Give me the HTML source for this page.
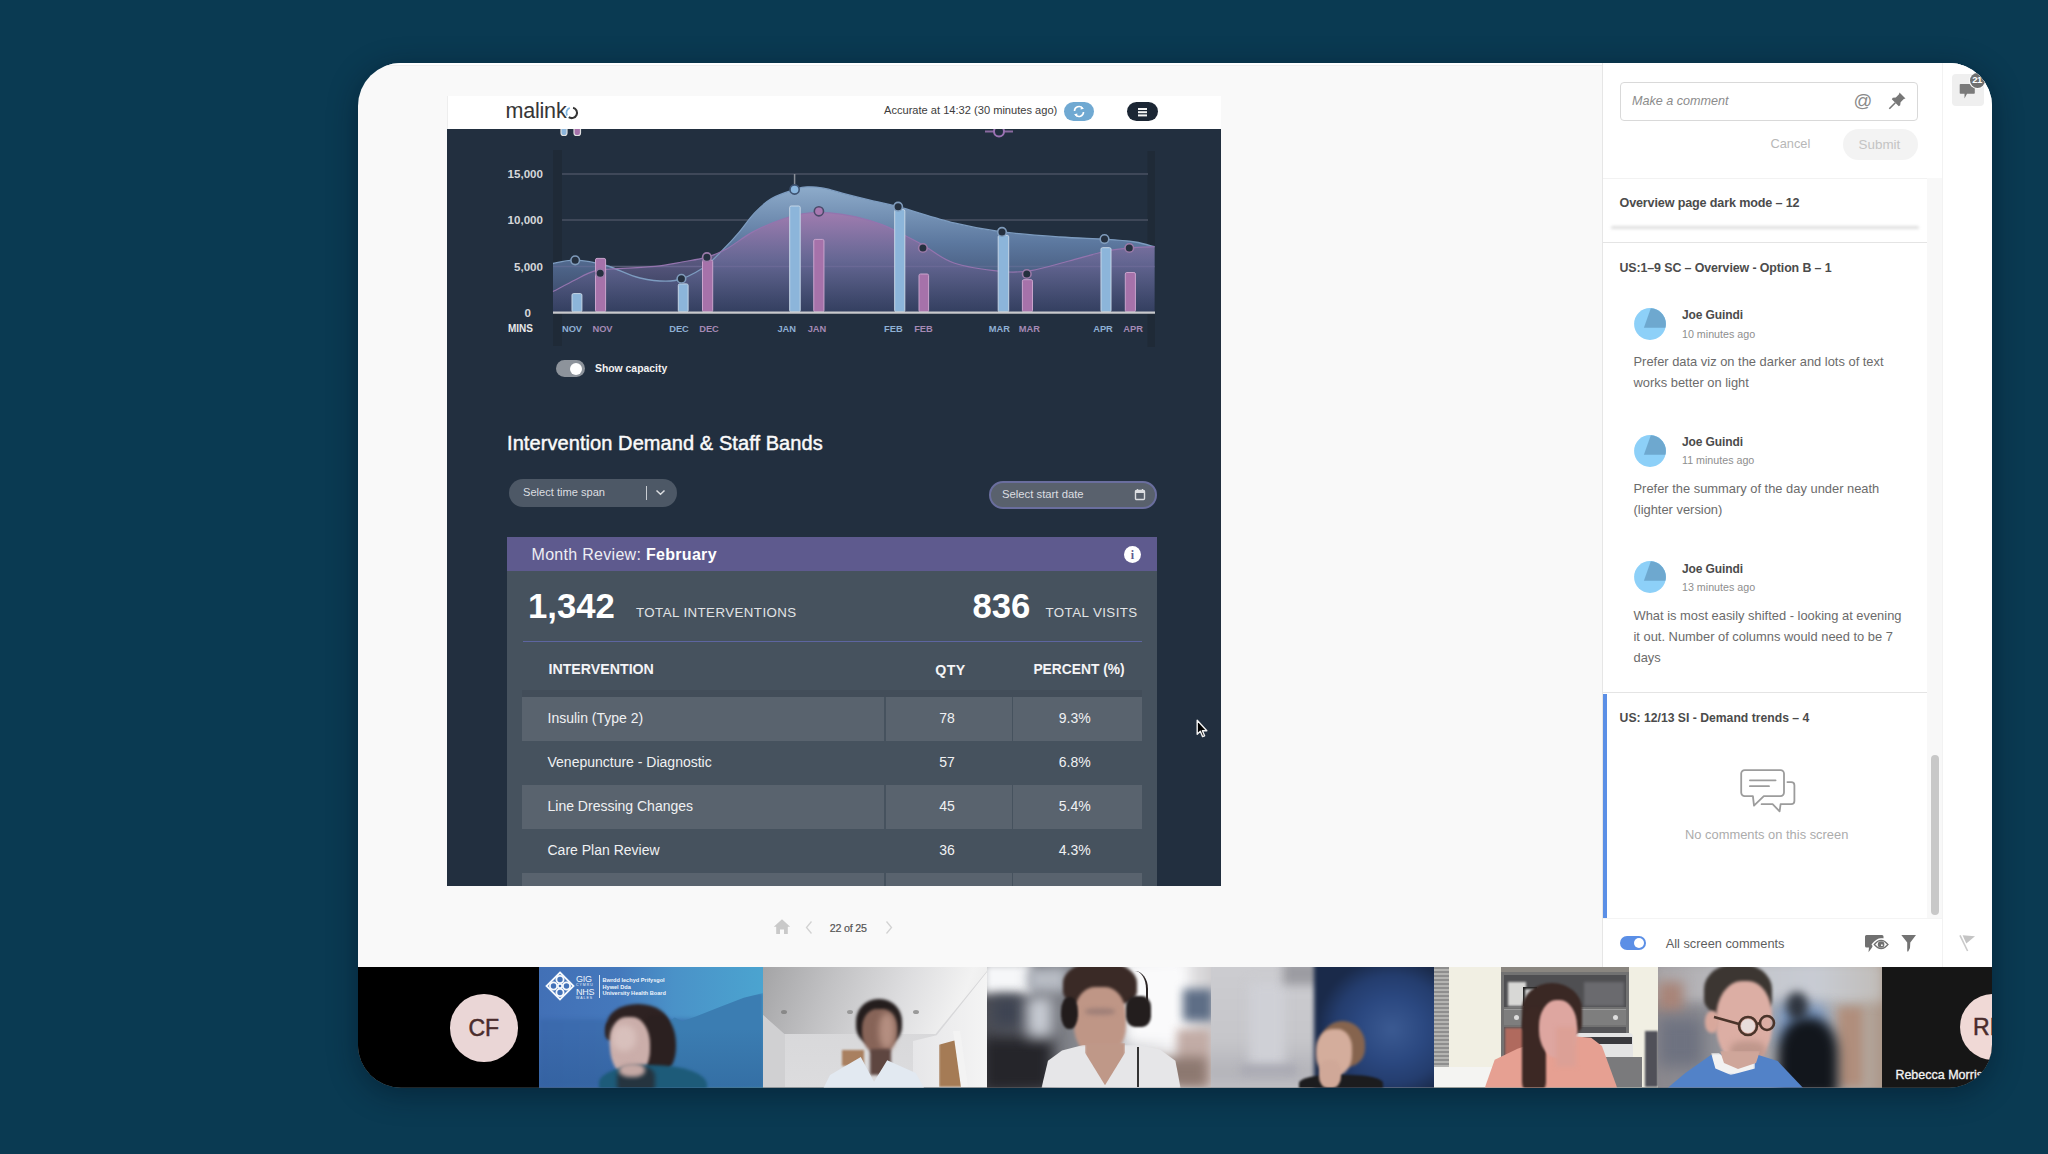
<!DOCTYPE html>
<html><head><meta charset="utf-8">
<style>
*{box-sizing:border-box;margin:0;padding:0}
html,body{width:2048px;height:1154px;overflow:hidden}
body{background:#0a3a52;position:relative;font-family:"Liberation Sans",sans-serif}
.a{position:absolute}
#shadow{position:absolute;left:358px;top:63px;width:1634px;height:1024.5px;border-radius:43px;box-shadow:0 6px 30px rgba(0,15,30,.45)}
#card{position:absolute;left:0;top:0;width:2048px;height:1154px;clip-path:inset(63px 56px 66.5px 358px round 43px);background:#f9f9f9}
.t{position:absolute;white-space:nowrap;line-height:1}
</style></head>
<body>
<div id="shadow"></div>
<div id="card">
  <div class="a" style="left:358px;top:63px;width:1634px;height:1.5px;background:#fff"></div>
  <div class="a" style="left:358px;top:64.5px;width:1634px;height:1px;background:#f0f0f0"></div>
  <!-- embedded dashboard screenshot -->
  <div class="a" style="left:447px;top:96px;width:774px;height:33px;background:#fff;border-left:1px solid #eee"></div>
  <div class="a" style="left:447px;top:129px;width:774px;height:757px;background:#222f3f"></div>
  <!--CHART-->
<svg class="a" style="left:447px;top:129px" width="774" height="757" viewBox="447 129 774 757">
<defs>
<linearGradient id="gb" gradientUnits="userSpaceOnUse" x1="0" y1="186" x2="0" y2="312">
<stop offset="0" stop-color="#8eaccb"/><stop offset="0.45" stop-color="#5c789f"/><stop offset="1" stop-color="#34405f"/></linearGradient>
<linearGradient id="gp" gradientUnits="userSpaceOnUse" x1="0" y1="210" x2="0" y2="312">
<stop offset="0" stop-color="#a57bb0" stop-opacity="0.95"/><stop offset="0.5" stop-color="#6b6594" stop-opacity="0.75"/><stop offset="1" stop-color="#333e60" stop-opacity="0.6"/></linearGradient>
</defs>
<rect x="553" y="150" width="9" height="196" fill="#1f2a37"/>
<rect x="1147.5" y="151" width="7.5" height="196" fill="#1f2a37"/>
<line x1="562" y1="174" x2="1148" y2="174" stroke="#4a5263" stroke-width="1.6"/>
<line x1="562" y1="220" x2="1148" y2="220" stroke="#4a5263" stroke-width="1.6"/>
<line x1="562" y1="266.5" x2="1148" y2="266.5" stroke="#4a5263" stroke-width="1.6"/>
<path d="M553.0,263.5 C556.7,262.9 566.2,259.9 575.0,260.2 C583.8,260.5 595.2,262.5 606.0,265.5 C616.8,268.5 628.5,275.5 640.0,278.0 C651.5,280.5 664.5,282.2 675.0,280.5 C685.5,278.8 694.9,273.2 703.0,268.0 C711.1,262.8 717.4,255.2 723.4,249.3 C729.4,243.4 733.8,238.5 739.0,232.4 C744.2,226.3 749.2,218.5 754.6,212.9 C760.0,207.3 764.8,202.5 771.5,198.6 C778.2,194.7 789.0,191.4 794.9,189.5 C800.8,187.6 801.8,187.1 806.6,186.9 C811.4,186.7 817.4,187.1 823.5,188.2 C829.6,189.3 835.4,191.4 843.0,193.4 C850.6,195.4 859.8,197.7 869.0,199.9 C878.2,202.1 883.8,202.9 898.0,206.7 C912.2,210.5 936.7,218.7 954.0,222.9 C971.3,227.1 984.3,229.6 1002.0,231.9 C1019.7,234.2 1042.9,235.8 1060.0,237.0 C1077.1,238.2 1092.0,238.3 1104.5,239.1 C1117.0,239.9 1126.7,240.7 1135.0,242.0 C1143.3,243.3 1151.2,245.9 1154.5,246.7 L1154.5,312 L553,312 Z" fill="url(#gb)"/>
<path d="M553.0,291.5 C556.7,289.6 568.2,283.4 575.0,280.0 C581.8,276.6 587.9,273.0 594.0,271.2 C600.1,269.4 601.3,269.8 611.5,269.0 C621.7,268.2 643.2,267.6 655.0,266.4 C666.8,265.2 673.3,263.6 682.0,262.0 C690.7,260.4 699.7,259.2 707.0,257.1 C714.3,255.0 718.5,253.4 726.0,249.3 C733.5,245.2 743.3,237.2 752.0,232.4 C760.7,227.6 769.3,223.8 778.0,220.7 C786.7,217.5 795.3,214.8 804.0,213.5 C812.7,212.2 821.3,212.3 830.0,212.9 C838.7,213.5 847.3,214.9 856.0,216.8 C864.7,218.8 874.7,221.9 882.0,224.6 C889.3,227.3 893.2,229.6 900.0,233.0 C906.8,236.4 914.0,240.0 923.0,245.0 C932.0,250.0 940.8,258.6 954.0,263.0 C967.2,267.4 989.2,270.2 1002.0,271.5 C1014.8,272.8 1019.8,272.4 1031.0,270.6 C1042.2,268.9 1056.8,264.2 1069.0,261.0 C1081.2,257.8 1094.5,253.7 1104.5,251.5 C1114.5,249.3 1120.7,248.8 1129.0,248.0 C1137.3,247.2 1150.2,246.9 1154.5,246.7 L1154.5,312 L553,312 Z" fill="url(#gp)"/>
<line x1="553" y1="266.5" x2="1155" y2="266.5" stroke="#8a7fb0" stroke-opacity="0.25" stroke-width="1.5"/>
<path d="M553.0,263.5 C556.7,262.9 566.2,259.9 575.0,260.2 C583.8,260.5 595.2,262.5 606.0,265.5 C616.8,268.5 628.5,275.5 640.0,278.0 C651.5,280.5 664.5,282.2 675.0,280.5 C685.5,278.8 694.9,273.2 703.0,268.0 C711.1,262.8 717.4,255.2 723.4,249.3 C729.4,243.4 733.8,238.5 739.0,232.4 C744.2,226.3 749.2,218.5 754.6,212.9 C760.0,207.3 764.8,202.5 771.5,198.6 C778.2,194.7 789.0,191.4 794.9,189.5 C800.8,187.6 801.8,187.1 806.6,186.9 C811.4,186.7 817.4,187.1 823.5,188.2 C829.6,189.3 835.4,191.4 843.0,193.4 C850.6,195.4 859.8,197.7 869.0,199.9 C878.2,202.1 883.8,202.9 898.0,206.7 C912.2,210.5 936.7,218.7 954.0,222.9 C971.3,227.1 984.3,229.6 1002.0,231.9 C1019.7,234.2 1042.9,235.8 1060.0,237.0 C1077.1,238.2 1092.0,238.3 1104.5,239.1 C1117.0,239.9 1126.7,240.7 1135.0,242.0 C1143.3,243.3 1151.2,245.9 1154.5,246.7" fill="none" stroke="#7d9cc0" stroke-width="1.3"/>
<path d="M553.0,291.5 C556.7,289.6 568.2,283.4 575.0,280.0 C581.8,276.6 587.9,273.0 594.0,271.2 C600.1,269.4 601.3,269.8 611.5,269.0 C621.7,268.2 643.2,267.6 655.0,266.4 C666.8,265.2 673.3,263.6 682.0,262.0 C690.7,260.4 699.7,259.2 707.0,257.1 C714.3,255.0 718.5,253.4 726.0,249.3 C733.5,245.2 743.3,237.2 752.0,232.4 C760.7,227.6 769.3,223.8 778.0,220.7 C786.7,217.5 795.3,214.8 804.0,213.5 C812.7,212.2 821.3,212.3 830.0,212.9 C838.7,213.5 847.3,214.9 856.0,216.8 C864.7,218.8 874.7,221.9 882.0,224.6 C889.3,227.3 893.2,229.6 900.0,233.0 C906.8,236.4 914.0,240.0 923.0,245.0 C932.0,250.0 940.8,258.6 954.0,263.0 C967.2,267.4 989.2,270.2 1002.0,271.5 C1014.8,272.8 1019.8,272.4 1031.0,270.6 C1042.2,268.9 1056.8,264.2 1069.0,261.0 C1081.2,257.8 1094.5,253.7 1104.5,251.5 C1114.5,249.3 1120.7,248.8 1129.0,248.0 C1137.3,247.2 1150.2,246.9 1154.5,246.7" fill="none" stroke="#9474ae" stroke-width="1.2"/>
<line x1="794.6" y1="174" x2="794.6" y2="186" stroke="#8a8f98" stroke-width="1.5"/>
<rect x="572" y="293.6" width="9.9" height="18.4" rx="1.5" fill="#8cb5da" stroke="#c5d6e6" stroke-width="1"/>
<rect x="678.3" y="283.9" width="9.8" height="28.1" rx="1.5" fill="#8cb5da" stroke="#c5d6e6" stroke-width="1"/>
<rect x="789.7" y="206" width="10.5" height="106.0" rx="1.5" fill="#8cb5da" stroke="#c5d6e6" stroke-width="1"/>
<rect x="894.7" y="209.6" width="10.1" height="102.4" rx="1.5" fill="#8cb5da" stroke="#c5d6e6" stroke-width="1"/>
<rect x="998.2" y="235.3" width="10.5" height="76.7" rx="1.5" fill="#8cb5da" stroke="#c5d6e6" stroke-width="1"/>
<rect x="1101" y="247.7" width="10.0" height="64.3" rx="1.5" fill="#8cb5da" stroke="#c5d6e6" stroke-width="1"/>
<rect x="595.5" y="258.4" width="10.1" height="53.6" rx="1.5" fill="#a672aa" stroke="#c9a4cc" stroke-width="1"/>
<rect x="702.5" y="260" width="10.2" height="52.0" rx="1.5" fill="#a672aa" stroke="#c9a4cc" stroke-width="1"/>
<rect x="813.75" y="239.4" width="10.2" height="72.6" rx="1.5" fill="#a672aa" stroke="#c9a4cc" stroke-width="1"/>
<rect x="919" y="274" width="9.6" height="38.0" rx="1.5" fill="#a672aa" stroke="#c9a4cc" stroke-width="1"/>
<rect x="1022.4" y="279.7" width="10.1" height="32.3" rx="1.5" fill="#a672aa" stroke="#c9a4cc" stroke-width="1"/>
<rect x="1125.3" y="272.5" width="10.1" height="39.5" rx="1.5" fill="#a672aa" stroke="#c9a4cc" stroke-width="1"/>
<line x1="553" y1="312.6" x2="1155" y2="312.6" stroke="#c8c9cc" stroke-width="2.4"/>
<circle cx="575.2" cy="260.3" r="4.3" fill="#25303f" stroke="#7f9bbb" stroke-width="1.6"/>
<circle cx="681.4" cy="278.75" r="4.3" fill="#25303f" stroke="#7f9bbb" stroke-width="1.6"/>
<circle cx="898.1" cy="206.7" r="4.3" fill="#25303f" stroke="#7f9bbb" stroke-width="1.6"/>
<circle cx="1002" cy="231.9" r="4.3" fill="#25303f" stroke="#7f9bbb" stroke-width="1.6"/>
<circle cx="1104.5" cy="239.1" r="4.3" fill="#25303f" stroke="#7f9bbb" stroke-width="1.6"/>
<circle cx="600.2" cy="273.3" r="4.3" fill="#25303f" stroke="#9a7aa8" stroke-width="1.6"/>
<circle cx="706.9" cy="257.2" r="4.3" fill="#25303f" stroke="#9a7aa8" stroke-width="1.6"/>
<circle cx="922.9" cy="248" r="4.3" fill="#25303f" stroke="#9a7aa8" stroke-width="1.6"/>
<circle cx="1026.8" cy="274" r="4.3" fill="#25303f" stroke="#9a7aa8" stroke-width="1.6"/>
<circle cx="1129.3" cy="248" r="4.3" fill="#25303f" stroke="#9a7aa8" stroke-width="1.6"/>
<circle cx="794.6" cy="189.5" r="4.6" fill="#8ab6de" stroke="#3e5270" stroke-width="1.6"/>
<circle cx="818.9" cy="211.3" r="4.6" fill="#a878b0" stroke="#4a4a6a" stroke-width="1.6"/>
<line x1="985" y1="131.5" x2="1013" y2="131.5" stroke="#8a6aa0" stroke-width="2"/>
<circle cx="999" cy="131.5" r="5" fill="#222f3f" stroke="#9a72b2" stroke-width="2"/>
<rect x="561" y="124" width="6" height="11.5" rx="2.5" fill="#8cb5da" stroke="#e0e0e0" stroke-width="1.2"/>
<rect x="574" y="124" width="6.5" height="11.5" rx="2.5" fill="#a672aa" stroke="#e0e0e0" stroke-width="1.2"/>
</svg>
<!--/CHART-->
  <!-- header content -->
  <div class="t" style="left:505.5px;top:101.2px;font-size:21.5px;color:#363636;letter-spacing:-0.2px;-webkit-text-stroke:0.05px #363636">malink</div>
  <svg class="a" style="left:564px;top:105px" width="16" height="16" viewBox="0 0 16 16"><path d="M9.07,2.68 A5.3,5.3 0 1 1 4.74,12.19" fill="none" stroke="#363636" stroke-width="2"/><path d="M3.11,10.45 A5.3,5.3 0 0 1 5.8,2.85" fill="none" stroke="#7fb6e2" stroke-width="1.8"/></svg>
  <div class="t" style="left:884px;top:105px;font-size:11.1px;color:#3c3c3c">Accurate at 14:32 (30 minutes ago)</div>
  <div class="a" style="left:1064px;top:102px;width:30px;height:19px;border-radius:10px;background:#70a9d2"></div>
  <svg class="a" style="left:1071px;top:104px" width="16" height="15" viewBox="0 0 16 15"><path d="M3.5,7 A4.5,4.5 0 0 1 11.5,4.2 M12.5,8 A4.5,4.5 0 0 1 4.5,10.8" fill="none" stroke="#fff" stroke-width="1.6"/><path d="M10,2.3 L13,4.8 L9.6,5.6Z M6,12.7 L3,10.2 L6.4,9.4Z" fill="#fff"/></svg>
  <div class="a" style="left:1127px;top:102px;width:31px;height:19px;border-radius:10px;background:#1b2634"></div>
  <div class="a" style="left:1138px;top:108px;width:8.5px;height:1.7px;background:#f4f4f4;box-shadow:0 3.2px 0 #f4f4f4,0 6.4px 0 #f4f4f4"></div>
  <!-- chart labels -->
  <div class="t" style="left:480px;top:168px;width:63px;text-align:right;font-size:11.6px;font-weight:bold;color:#d5d7da">15,000</div>
  <div class="t" style="left:480px;top:214px;width:63px;text-align:right;font-size:11.6px;font-weight:bold;color:#d5d7da">10,000</div>
  <div class="t" style="left:480px;top:260.5px;width:63px;text-align:right;font-size:11.6px;font-weight:bold;color:#d5d7da">5,000</div>
  <div class="t" style="left:480px;top:306.5px;width:51px;text-align:right;font-size:11.6px;font-weight:bold;color:#d5d7da">0</div>
  <div class="t" style="left:508px;top:324px;font-size:10px;font-weight:bold;color:#e8e8e8">MINS</div>
  <div style="position:absolute;left:0;top:325px;font-size:9.3px;font-weight:bold;line-height:1">
    <div class="t" style="left:552px;width:40px;text-align:center;color:#8fb0d4">NOV</div>
    <div class="t" style="left:582.5px;width:40px;text-align:center;color:#a58ab5">NOV</div>
    <div class="t" style="left:659px;width:40px;text-align:center;color:#8fb0d4">DEC</div>
    <div class="t" style="left:689px;width:40px;text-align:center;color:#a58ab5">DEC</div>
    <div class="t" style="left:766.7px;width:40px;text-align:center;color:#8fb0d4">JAN</div>
    <div class="t" style="left:797px;width:40px;text-align:center;color:#a58ab5">JAN</div>
    <div class="t" style="left:873.4px;width:40px;text-align:center;color:#8fb0d4">FEB</div>
    <div class="t" style="left:903.5px;width:40px;text-align:center;color:#a58ab5">FEB</div>
    <div class="t" style="left:979.3px;width:40px;text-align:center;color:#8fb0d4">MAR</div>
    <div class="t" style="left:1009.3px;width:40px;text-align:center;color:#a58ab5">MAR</div>
    <div class="t" style="left:1083px;width:40px;text-align:center;color:#8fb0d4">APR</div>
    <div class="t" style="left:1113.2px;width:40px;text-align:center;color:#a58ab5">APR</div>
  </div>
  <!-- show capacity -->
  <div class="a" style="left:556px;top:360px;width:29px;height:17px;border-radius:9px;background:#8d939b"></div>
  <div class="a" style="left:570px;top:362.5px;width:12px;height:12px;border-radius:50%;background:#fff"></div>
  <div class="t" style="left:595px;top:363.5px;font-size:10.4px;font-weight:bold;color:#f2f2f2">Show capacity</div>
  <!-- title -->
  <div class="t" style="left:507px;top:432.5px;font-size:20px;letter-spacing:0.08px;color:#fafafa;-webkit-text-stroke:0.45px #fafafa">Intervention Demand &amp; Staff Bands</div>
  <!-- dropdown -->
  <div class="a" style="left:508.5px;top:478.5px;width:168.5px;height:28.5px;border-radius:14px;background:#4d5866"></div>
  <div class="t" style="left:523px;top:487px;font-size:11.1px;color:#dcdee1">Select time span</div>
  <div class="a" style="left:645.5px;top:486px;width:1.5px;height:13.5px;background:#c8ccd2"></div>
  <svg class="a" style="left:655px;top:489px" width="11" height="7" viewBox="0 0 11 7"><path d="M1.5,1.5 L5.5,5.2 L9.5,1.5" fill="none" stroke="#dcdee1" stroke-width="1.5"/></svg>
  <div class="a" style="left:988.5px;top:480.5px;width:168.5px;height:28.5px;border-radius:14px;background:#59616d;border:2px solid #6a6e9e"></div>
  <div class="t" style="left:1002px;top:489px;font-size:11.3px;color:#dcdee1">Select start date</div>
  <svg class="a" style="left:1134px;top:488px" width="12" height="13" viewBox="0 0 12 13"><rect x="1.5" y="2.5" width="9" height="9" rx="1" fill="none" stroke="#dcdee1" stroke-width="1.4"/><rect x="1.5" y="2.5" width="9" height="2.5" fill="#dcdee1"/><path d="M3.5,1 V3 M8.5,1 V3" stroke="#dcdee1" stroke-width="1.3"/></svg>
  <!-- month review panel -->
  <div class="a" style="left:507px;top:537px;width:650px;height:34px;background:#5e5a8e"></div>
  <div class="t" style="left:531.5px;top:547px;font-size:16px;letter-spacing:0.3px;color:#eeeef4">Month Review: <b style="color:#fff">February</b></div>
  <div class="a" style="left:1124px;top:546px;width:17px;height:17px;border-radius:50%;background:#fff"></div>
  <div class="t" style="left:1124px;top:548.5px;width:17px;text-align:center;font-size:12px;font-weight:bold;color:#5e5a8e;font-family:'Liberation Serif',serif">i</div>
  <div class="a" style="left:507px;top:571px;width:650px;height:315px;background:#46525e"></div>
  <div class="t" style="left:528px;top:589px;font-size:34.7px;font-weight:bold;color:#fff">1,342</div>
  <div class="t" style="left:636px;top:606px;font-size:13.3px;letter-spacing:0.43px;color:#e2e4e7">TOTAL INTERVENTIONS</div>
  <div class="t" style="left:972.5px;top:589px;font-size:34.7px;font-weight:bold;color:#fff">836</div>
  <div class="t" style="left:1045.5px;top:606px;font-size:13.3px;letter-spacing:0.43px;color:#e2e4e7">TOTAL VISITS</div>
  <div class="a" style="left:523px;top:640.5px;width:619px;height:1.5px;background:#5d65a0"></div>
  <!-- table -->
  <div class="t" style="left:548.5px;top:662px;font-size:14.2px;font-weight:bold;color:#f4f4f6">INTERVENTION</div>
  <div class="t" style="left:930px;top:662.5px;width:41px;text-align:center;font-size:14.2px;font-weight:bold;letter-spacing:0.4px;color:#f4f4f6">QTY</div>
  <div class="t" style="left:1030px;top:662.5px;width:98px;text-align:center;font-size:13.8px;font-weight:bold;color:#f4f4f6">PERCENT (%)</div>
  <div class="a" style="left:522px;top:690px;width:620px;height:7px;background:#424d59"></div>
  <div class="a" style="left:522px;top:697px;width:362px;height:44px;background:#59636e"></div>
  <div class="a" style="left:885.5px;top:697px;width:126px;height:44px;background:#59636e"></div>
  <div class="a" style="left:1013px;top:697px;width:129px;height:44px;background:#59636e"></div>
  <div class="a" style="left:522px;top:785px;width:362px;height:44px;background:#59636e"></div>
  <div class="a" style="left:885.5px;top:785px;width:126px;height:44px;background:#59636e"></div>
  <div class="a" style="left:1013px;top:785px;width:129px;height:44px;background:#59636e"></div>
  <div class="a" style="left:522px;top:873px;width:362px;height:13px;background:#59636e"></div>
  <div class="a" style="left:885.5px;top:873px;width:126px;height:13px;background:#59636e"></div>
  <div class="a" style="left:1013px;top:873px;width:129px;height:13px;background:#59636e"></div>
  <div style="position:absolute;left:0;top:0;font-size:14px;color:#f0f1f3;line-height:1">
    <div class="t" style="left:547.5px;top:711px">Insulin (Type 2)</div>
    <div class="t" style="left:917px;top:711px;width:60px;text-align:center">78</div>
    <div class="t" style="left:1044.8px;top:711px;width:60px;text-align:center">9.3%</div>
    <div class="t" style="left:547.5px;top:755px">Venepuncture - Diagnostic</div>
    <div class="t" style="left:917px;top:755px;width:60px;text-align:center">57</div>
    <div class="t" style="left:1044.8px;top:755px;width:60px;text-align:center">6.8%</div>
    <div class="t" style="left:547.5px;top:799px">Line Dressing Changes</div>
    <div class="t" style="left:917px;top:799px;width:60px;text-align:center">45</div>
    <div class="t" style="left:1044.8px;top:799px;width:60px;text-align:center">5.4%</div>
    <div class="t" style="left:547.5px;top:843px">Care Plan Review</div>
    <div class="t" style="left:917px;top:843px;width:60px;text-align:center">36</div>
    <div class="t" style="left:1044.8px;top:843px;width:60px;text-align:center">4.3%</div>
  </div>
  <!-- cursor -->
  <svg class="a" style="left:1194px;top:718px" width="16" height="22" viewBox="0 0 16 22"><path d="M3.2,2.3 L3.2,16.2 L6.3,13.3 L8.6,18.6 L10.6,17.8 L8.4,12.7 L12.8,12.7 Z" fill="#000" stroke="#f2f2f2" stroke-width="1.4" stroke-linejoin="round"/></svg>
  <!-- pagination -->
  <svg class="a" style="left:773px;top:918px" width="18" height="17" viewBox="0 0 18 17"><path d="M9,1.2 L17.2,8.8 L14.8,8.8 L14.8,16 L11,16 L11,11.5 L7,11.5 L7,16 L3.2,16 L3.2,8.8 L0.8,8.8 Z" fill="#c9c9c9"/></svg>
  <svg class="a" style="left:804px;top:920px" width="10" height="15" viewBox="0 0 10 15"><path d="M7.5,1.5 L2.5,7.5 L7.5,13.5" fill="none" stroke="#d2d2d2" stroke-width="1.3"/></svg>
  <div class="t" style="left:829.8px;top:922.5px;font-size:10.7px;letter-spacing:-0.2px;color:#555;-webkit-text-stroke:0.2px #555">22 of 25</div>
  <svg class="a" style="left:884px;top:920px" width="10" height="15" viewBox="0 0 10 15"><path d="M2.5,1.5 L7.5,7.5 L2.5,13.5" fill="none" stroke="#d2d2d2" stroke-width="1.3"/></svg>

  <!-- comments panel -->
  <div class="a" style="left:1602px;top:63px;width:341px;height:904px;background:#fff;border-left:1px solid #e6e6e6"></div>
  <div class="a" style="left:1942px;top:63px;width:50px;height:904px;background:#fff;border-left:1px solid #f2f2f2"></div>
  <div class="a" style="left:1926.5px;top:178px;width:15.5px;height:740px;background:#f8f8f8"></div>
  <div class="a" style="left:1603px;top:177.5px;width:324px;height:1px;background:#f2f2f2"></div>
  <!-- input -->
  <div class="a" style="left:1619.5px;top:81.5px;width:298px;height:39px;border:1px solid #d9d9d9;border-radius:4px;background:#fff"></div>
  <div class="t" style="left:1632px;top:94.5px;font-size:12.6px;font-style:italic;color:#8c8c8c">Make a comment</div>
  <div class="t" style="left:1853.5px;top:92px;font-size:18.5px;color:#8a8a8a">@</div>
  <svg class="a" style="left:1887px;top:90px" width="21" height="21" viewBox="0 0 21 21"><path d="M12.5,2.5 L18.5,8.5 L16.8,9 L13.6,12.2 L13.2,15.2 L11.8,16.2 L4.8,9.2 L5.8,7.8 L8.8,7.4 L12,4.2 Z" fill="#777"/><path d="M8.3,12.7 L2.3,18.7" stroke="#777" stroke-width="1.6"/></svg>
  <div class="t" style="left:1770.5px;top:138px;font-size:12.8px;color:#b7b7b7">Cancel</div>
  <div class="a" style="left:1842.5px;top:129px;width:75px;height:31px;border-radius:16px;background:#f3f3f3"></div>
  <div class="t" style="left:1858.6px;top:138px;font-size:13.4px;color:#c4c4c4">Submit</div>
  <!-- group 1 -->
  <div class="t" style="left:1619.5px;top:196.5px;font-size:12.6px;font-weight:bold;letter-spacing:-0.15px;color:#4b4b4b">Overview page dark mode – 12</div>
  <div class="a" style="left:1611px;top:225.5px;width:308px;height:3px;border-radius:2px;background:#dedede;filter:blur(1.8px)"></div>
  <div class="a" style="left:1603px;top:242px;width:324px;height:1px;background:#e4e4e4"></div>
  <!-- group 2 -->
  <div class="t" style="left:1619.5px;top:262px;font-size:12.4px;font-weight:bold;letter-spacing:-0.1px;color:#4b4b4b">US:1–9 SC – Overview - Option B – 1</div>
  <div id="cm" style="position:absolute;left:0;top:0;line-height:1">
    <svg class="a" style="left:1633.5px;top:307.8px" width="32" height="32" viewBox="0 0 32 32"><circle cx="16" cy="16" r="15.9" fill="#8dd0f8"/><path d="M16.8,0.15 A15.9,15.9 0 0 1 31.4,19.8 L9.9,19.8 Z" fill="#6ea8cf"/></svg>
    <div class="t" style="left:1682px;top:309px;font-size:12px;font-weight:bold;letter-spacing:-0.1px;color:#4b4b4b">Joe Guindi</div>
    <div class="t" style="left:1682px;top:328.5px;font-size:10.7px;color:#8e8e8e">10 minutes ago</div>
    <div class="t" style="left:1633.5px;top:356px;font-size:12.9px;color:#6b6b6b">Prefer data viz on the darker and lots of text</div>
    <div class="t" style="left:1633.5px;top:377px;font-size:12.9px;color:#6b6b6b">works better on light</div>

    <svg class="a" style="left:1633.5px;top:434.5px" width="32" height="32" viewBox="0 0 32 32"><circle cx="16" cy="16" r="15.9" fill="#8dd0f8"/><path d="M16.8,0.15 A15.9,15.9 0 0 1 31.4,19.8 L9.9,19.8 Z" fill="#6ea8cf"/></svg>
    <div class="t" style="left:1682px;top:436px;font-size:12px;font-weight:bold;letter-spacing:-0.1px;color:#4b4b4b">Joe Guindi</div>
    <div class="t" style="left:1682px;top:455px;font-size:10.7px;color:#8e8e8e">11 minutes ago</div>
    <div class="t" style="left:1633.5px;top:483px;font-size:12.9px;color:#6b6b6b">Prefer the summary of the day under neath</div>
    <div class="t" style="left:1633.5px;top:504px;font-size:12.9px;color:#6b6b6b">(lighter version)</div>

    <svg class="a" style="left:1633.5px;top:561px" width="32" height="32" viewBox="0 0 32 32"><circle cx="16" cy="16" r="15.9" fill="#8dd0f8"/><path d="M16.8,0.15 A15.9,15.9 0 0 1 31.4,19.8 L9.9,19.8 Z" fill="#6ea8cf"/></svg>
    <div class="t" style="left:1682px;top:562.5px;font-size:12px;font-weight:bold;letter-spacing:-0.1px;color:#4b4b4b">Joe Guindi</div>
    <div class="t" style="left:1682px;top:582px;font-size:10.7px;color:#8e8e8e">13 minutes ago</div>
    <div class="t" style="left:1633.5px;top:609.5px;font-size:12.9px;color:#6b6b6b">What is most easily shifted - looking at evening</div>
    <div class="t" style="left:1633.5px;top:630.5px;font-size:12.9px;color:#6b6b6b">it out. Number of columns would need to be 7</div>
    <div class="t" style="left:1633.5px;top:651.5px;font-size:12.9px;color:#6b6b6b">days</div>
  </div>
  <div class="a" style="left:1603px;top:692px;width:324px;height:1px;background:#e4e4e4"></div>
  <!-- group 3 -->
  <div class="a" style="left:1603px;top:693.5px;width:4px;height:224px;background:#5b8fe6"></div>
  <div class="t" style="left:1619.6px;top:712px;font-size:12.2px;font-weight:bold;letter-spacing:0px;color:#4b4b4b">US: 12/13 SI - Demand trends – 4</div>
  <svg class="a" style="left:1739px;top:768px" width="58" height="46" viewBox="0 0 58 46"><g fill="none" stroke="#9c9c9c" stroke-width="1.8" stroke-linejoin="round" stroke-linecap="round"><path d="M5.7,2.1 H41.5 A3.5,3.5 0 0 1 45,5.6 V24.6 A3.5,3.5 0 0 1 41.5,28.1 H24.8 L15,37.7 L13.9,28.1 H5.7 A3.5,3.5 0 0 1 2.2,24.6 V5.6 A3.5,3.5 0 0 1 5.7,2.1 Z"/><path d="M48.4,14.1 H52.2 A3.2,3.2 0 0 1 55.4,17.3 V33 A3.2,3.2 0 0 1 52.2,36.2 H41.6 L40.6,43.4 L33.6,36.2 H22.6"/><path d="M10.9,12.3 H36.6 M10.9,18.2 H30"/></g></svg>
  <div class="t" style="left:1685px;top:829px;font-size:12.9px;color:#acacac">No comments on this screen</div>
  <div class="a" style="left:1930.5px;top:755px;width:8.5px;height:159.5px;border-radius:4.5px;background:#c8c8c8"></div>
  <!-- bottom bar -->
  <div class="a" style="left:1603px;top:917.5px;width:339px;height:1px;background:#f4f4f4"></div>
  <div class="a" style="left:1619.5px;top:936.3px;width:26px;height:14px;border-radius:7px;background:#5b8fe6"></div>
  <div class="a" style="left:1633.5px;top:938.3px;width:10px;height:10px;border-radius:50%;background:#fff"></div>
  <div class="t" style="left:1665.7px;top:937.5px;font-size:12.8px;color:#5e5e5e">All screen comments</div>
  <svg class="a" style="left:1864px;top:933px" width="27" height="21" viewBox="0 0 27 21"><path d="M2.5,2 H18 A1.5,1.5 0 0 1 19.5,3.5 V5.6 A10,8 0 0 0 9,12 L8,14.6 L4.5,19.3 L5,14.6 H2.5 A1.5,1.5 0 0 1 1,13.1 V3.5 A1.5,1.5 0 0 1 2.5,2 Z" fill="#707070"/><path d="M8.4,11.5 Q17.1,0.5 25.8,11.5 Q17.1,22.5 8.4,11.5 Z" fill="#707070" stroke="#fff" stroke-width="1.4"/><path d="M11.2,11.5 Q17.1,4.6 23,11.5 Q17.1,18.4 11.2,11.5 Z" fill="#fff"/><circle cx="17.1" cy="11.5" r="3.3" fill="#707070"/><circle cx="17.9" cy="12.2" r="0.9" fill="#fff"/></svg>
  <svg class="a" style="left:1900px;top:934px" width="17" height="19" viewBox="0 0 17 19"><path d="M1.3,1 H16 L10.3,8.5 L10,14 L8.2,17.5 L7.2,17.5 L7.2,8.5 Z" fill="#737373"/></svg>
  <svg class="a" style="left:1958px;top:933px" width="19" height="20" viewBox="0 0 19 20"><path d="M2,2.3 L9.6,18" stroke="#cacaca" stroke-width="1.6"/><path d="M4.6,2.3 L17,3.3 L8.3,10.5 Z" fill="#c4c4c4"/></svg>
  <!-- right column comment button -->
  <div class="a" style="left:1952px;top:74px;width:32px;height:31.5px;border-radius:4px;background:#efefef"></div>
  <svg class="a" style="left:1959px;top:83px" width="17" height="17" viewBox="0 0 17 17"><path d="M1.5,1 H15 A0.8,0.8 0 0 1 15.8,1.8 V10 A0.8,0.8 0 0 1 15,10.8 H8 L5.5,15.5 L5.5,10.8 H1.5 A0.8,0.8 0 0 1 0.7,10 V1.8 A0.8,0.8 0 0 1 1.5,1 Z" fill="#7a7a7a"/></svg>
  <div class="a" style="left:1969.5px;top:72.5px;width:15px;height:15px;border-radius:50%;background:#707070;box-shadow:0 0 0 1px #fafafa"></div>
  <div class="t" style="left:1969.5px;top:75px;width:15px;text-align:center;font-size:9.5px;font-weight:bold;letter-spacing:-0.5px;color:#fff">21</div>

  <!-- video strip -->
  <div class="a" style="left:358px;top:967px;width:1634px;height:121px;background:#000"></div>
  <!--VIDEO-->
<style>
.tile{position:absolute;top:967px;height:121px;overflow:hidden}
.tile div{position:absolute}
.bl{filter:blur(3px)}
</style>
<!-- tile1 CF -->
<div class="tile" style="left:358px;width:181px;background:#000">
  <div style="left:92px;top:27px;width:67.5px;height:67.5px;border-radius:50%;background:#ead6d6"></div>
  <div style="left:92px;top:50px;width:67.5px;text-align:center;font-size:23px;line-height:1;color:#4a2c2c;white-space:nowrap;-webkit-text-stroke:0.5px #4a2c2c">CF</div>
</div>
<!-- tile2 NHS -->
<div class="tile" style="left:539px;width:224px;background:linear-gradient(90deg,#4270b6 0%,#4478bc 35%,#4a92c8 60%,#4ba4d0 100%)">
  <div style="left:0;top:52px;width:224px;height:68px;background:linear-gradient(90deg,#3b69ad,#3d70b0 50%,#3b7cb0);filter:blur(2px)"></div>
  <div style="left:128px;top:26px;width:96px;height:94px;background:#3b7db2;clip-path:polygon(0 32%,8% 26%,16% 30%,30% 25%,55% 15%,80% 5%,100% 0,100% 100%,0 100%);filter:blur(1.5px)"></div>
  <div style="left:0;top:62px;width:224px;height:58px;background:linear-gradient(180deg,rgba(40,80,140,0),rgba(40,85,140,.35))"></div>
  <div style="left:68px;top:37px;width:62px;height:40px;border-radius:50% 50% 30% 30%;background:#2e2222;filter:blur(1.8px)"></div>
  <div style="left:104px;top:48px;width:33px;height:58px;border-radius:30% 50% 45% 40%;background:#2b2020;filter:blur(1.8px)"></div>
  <div style="left:66px;top:55px;width:10px;height:18px;border-radius:40%;background:#2e2424;filter:blur(1.5px)"></div>
  <div style="left:71px;top:50px;width:40px;height:60px;border-radius:40% 45% 45% 50%;background:#cbaeaa;filter:blur(1.8px)"></div>
  <div style="left:73px;top:58px;width:24px;height:26px;border-radius:45%;background:#d8c0bc;filter:blur(3px)"></div>
  <div style="left:60px;top:98px;width:108px;height:40px;border-radius:45% 50% 0 0;background:#1d5b79;filter:blur(1.5px)"></div>
  <div style="left:78px;top:99px;width:38px;height:30px;border-radius:35%;background:#25343f;filter:blur(2px)"></div>
  <div style="left:80px;top:96px;width:26px;height:14px;border-radius:45%;background:#c4a8a4;filter:blur(2px)"></div>
  <svg style="position:absolute;left:6px;top:4px" width="30" height="30" viewBox="0 0 30 30"><g fill="none" stroke="#f4f8fc" stroke-width="1.8"><path d="M15,1.5 L28.5,15 L15,28.5 L1.5,15 Z"/><circle cx="15" cy="8.5" r="3.6"/><circle cx="15" cy="21.5" r="3.6"/><circle cx="8.5" cy="15" r="3.6"/><circle cx="21.5" cy="15" r="3.6"/><circle cx="15" cy="15" r="2.2"/></g></svg>
  <div style="left:37px;top:7.5px;font-size:9px;line-height:8px;color:#eef4fb;white-space:nowrap;letter-spacing:-0.3px">GIG</div>
  <div style="left:37px;top:16px;font-size:3.5px;line-height:4px;color:#eef4fb;white-space:nowrap;letter-spacing:1px">CYMRU</div>
  <div style="left:37px;top:20.5px;font-size:9px;line-height:8px;color:#eef4fb;white-space:nowrap;letter-spacing:-0.3px">NHS</div>
  <div style="left:37px;top:29px;font-size:3.5px;line-height:4px;color:#eef4fb;white-space:nowrap;letter-spacing:1px">WALES</div>
  <div style="left:60px;top:8px;width:1px;height:23px;background:#dde8f4"></div>
  <div style="left:63.5px;top:10px;font-size:5.6px;line-height:6.5px;color:#eef4fb;white-space:nowrap;font-weight:bold">Bwrdd Iechyd Prifysgol<br>Hywel Dda<br>University Health Board</div>
</div>
<!-- tile3 man white room -->
<div class="tile" style="left:763px;width:224px;background:linear-gradient(180deg,#d4d4d6 0%,#dcdcde 100%)">
  <div style="left:0;top:0;width:224px;height:67px;background:linear-gradient(110deg,#a4a4a6 0%,#c2c2c4 30%,#dddddf 60%,#f2f2f2 85%,#e8e8e8 100%);clip-path:polygon(0 0,100% 0,100% 6%,77% 100%,9% 100%,0 72%)"></div>
  <div style="left:0;top:48px;width:22px;height:72px;background:#d0d0d2;clip-path:polygon(0 0,100% 27%,100% 100%,0 100%)"></div>
  <div style="left:150px;top:5px;width:74px;height:115px;background:linear-gradient(90deg,#e6e6e8,#f4f4f4);clip-path:polygon(100% 0,100% 100%,0 100%,0 60%,32% 55%)"></div>
  <div style="left:176px;top:72px;width:26px;height:48px;background:#a57b55;clip-path:polygon(0 12%,80% 0,100% 100%,0 100%);filter:blur(0.8px)"></div>
  <div style="left:194px;top:64px;width:7px;height:56px;background:#f3f3f3;transform:skewX(8deg)"></div>
  <div style="left:79px;top:83px;width:22px;height:16px;background:#a98060;filter:blur(0.8px)"></div>
  <div style="left:18px;top:43px;width:6px;height:4px;border-radius:50%;background:#888"></div>
  <div style="left:84px;top:43px;width:6px;height:4px;border-radius:50%;background:#999"></div>
  <div style="left:150px;top:43px;width:6px;height:4px;border-radius:50%;background:#999"></div>
  <div style="left:93px;top:32px;width:46px;height:46px;border-radius:48% 48% 40% 40%;background:#241d1d;filter:blur(1.5px)"></div>
  <div style="left:99px;top:42px;width:35px;height:45px;border-radius:42% 42% 48% 48%;background:#876458;filter:blur(1.5px)"></div>
  <div style="left:116px;top:46px;width:16px;height:36px;border-radius:45%;background:#b48e80;filter:blur(3px)"></div>
  <div style="left:107px;top:82px;width:21px;height:26px;background:#5e4640;filter:blur(1.5px)"></div>
  <div style="left:56px;top:90px;width:110px;height:40px;background:#e2e9f1;clip-path:polygon(0 100%,10% 45%,38% 0,50% 62%,62% 8%,88% 40%,100% 100%);filter:blur(0.7px)"></div>
</div>
<!-- tile4 man headphones -->
<div class="tile" style="left:987px;width:224px;background:#9a9ca2">
  <div style="left:-10px;top:-10px;width:244px;height:140px;background:linear-gradient(90deg,#4a4b52 0%,#5a5c64 20%,#8e9096 45%,#d8d9dc 65%,#f2f2f4 80%,#c8c6c8 100%);filter:blur(4px)"></div>
  <div style="left:-5px;top:-5px;width:50px;height:32px;background:#f6f7f9;filter:blur(5px)"></div>
  <div style="left:40px;top:0;width:40px;height:25px;background:#b8bcc4;filter:blur(6px)"></div>
  <div style="left:-5px;top:70px;width:70px;height:55px;background:#25252a;filter:blur(7px)"></div>
  <div style="left:5px;top:30px;width:30px;height:30px;background:#3e4452;filter:blur(7px)"></div>
  <div style="left:40px;top:30px;width:25px;height:40px;background:#c8ccd4;filter:blur(7px)"></div>
  <div style="left:140px;top:-5px;width:60px;height:80px;background:#fafafb;filter:blur(6px)"></div>
  <div style="left:196px;top:22px;width:30px;height:32px;background:#5e6e86;filter:blur(5px)"></div>
  <div style="left:190px;top:62px;width:34px;height:58px;background:#c2aca6;filter:blur(5px)"></div>
  <div style="left:160px;top:90px;width:60px;height:30px;background:#8c7870;filter:blur(6px)"></div>
  <div style="left:76px;top:-6px;width:74px;height:44px;border-radius:50% 50% 30% 30%;background:#3a2a26;filter:blur(1.5px)"></div>
  <div style="left:87px;top:20px;width:52px;height:70px;border-radius:40% 40% 45% 45%;background:#bf9686;filter:blur(1.5px)"></div>
  <div style="left:98px;top:41px;width:30px;height:7px;border-radius:40%;background:#a08078;filter:blur(2px)"></div>
  <div style="left:74px;top:30px;width:17px;height:32px;border-radius:45%;background:#221c1c;filter:blur(1px)"></div>
  <div style="left:139px;top:29px;width:25px;height:31px;border-radius:35%;background:#231e1e;filter:blur(1px)"></div>
  <div style="left:139px;top:4px;width:22px;height:30px;border-right:2px solid #2a2424;border-radius:0 60% 0 0;filter:blur(0.5px)"></div>
  <div style="left:54px;top:78px;width:140px;height:45px;background:#e6e6e8;clip-path:polygon(0 100%,5% 35%,15% 12%,30% 0,70% 0,85% 10%,96% 35%,100% 100%);filter:blur(1px)"></div>
  <div style="left:98px;top:76px;width:40px;height:44px;background:#bf9888;clip-path:polygon(0 0,100% 0,100% 22%,50% 96%,0 22%);filter:blur(1px)"></div>
  <div style="left:150px;top:80px;width:1.5px;height:40px;background:#333;"></div>
</div>
<!-- tile5 woman blue wall -->
<div class="tile" style="left:1211px;width:223px;background:#c4c4c8">
  <div style="left:-5px;top:-5px;width:115px;height:130px;background:linear-gradient(180deg,#cdcdd1 0%,#c6c6ca 60%,#b4b4ba 85%,#c0c0c4 100%);filter:blur(3px)"></div>
  <div style="left:38px;top:15px;width:36px;height:85px;background:#cfd0d6;filter:blur(6px)"></div>
  <div style="left:30px;top:98px;width:55px;height:10px;background:#a8a8b2;filter:blur(4px)"></div>
  <div style="left:72px;top:-6px;width:50px;height:24px;background:#9c9ca2;filter:blur(5px)"></div>
  <div style="left:103px;top:-5px;width:125px;height:130px;background:radial-gradient(ellipse 60% 55% at 62% 52%,#3b5a92 0%,#2b4880 45%,#243d6e 75%,#1a2a4a 100%);filter:blur(2px)"></div>
  <div style="left:109px;top:54px;width:45px;height:46px;border-radius:50% 50% 40% 40%;background:#86644e;filter:blur(1.5px)"></div>
  <div style="left:105px;top:62px;width:36px;height:47px;border-radius:45% 40% 45% 45%;background:#d4ad9c;filter:blur(1.5px)"></div>
  <div style="left:88px;top:108px;width:84px;height:20px;border-radius:40% 40% 0 0;background:#1c1c1e;filter:blur(1px)"></div>
  <div style="left:108px;top:93px;width:22px;height:28px;border-radius:40%;background:#d0a898;filter:blur(1px)"></div>
</div>
<!-- tile6 woman pink -->
<div class="tile" style="left:1434px;width:224px;background:#f1efe3">
  <div style="left:0;top:0;width:15px;height:106px;background:repeating-linear-gradient(180deg,#8e8e8e 0 2px,#b4b4b2 2px 4px)"></div>
  <div style="left:0;top:100px;width:62px;height:20px;background:#f4f4f2"></div>
  <div style="left:67px;top:0;width:128px;height:93px;background:#727272"></div>
  <div style="left:67px;top:0;width:128px;height:5px;background:#8a8680"></div>
  <div style="left:70px;top:8px;width:122px;height:32px;background:#4f4f52"></div>
  <div style="left:74px;top:15px;width:18px;height:24px;background:#d8d8d6;filter:blur(0.8px)"></div>
  <div style="left:89px;top:20px;width:14px;height:19px;background:#1e1e1e;filter:blur(0.6px)"></div>
  <div style="left:91px;top:22px;width:10px;height:15px;background:#cfcfcf;filter:blur(0.8px)"></div>
  <div style="left:150px;top:15px;width:40px;height:24px;background:#6a6a6e;filter:blur(1.5px)"></div>
  <div style="left:70px;top:42px;width:122px;height:16px;background:#7e7e7e;border-top:1px solid #9a9a9a"></div>
  <div style="left:80px;top:48px;width:5px;height:5px;border-radius:50%;background:#ddd"></div>
  <div style="left:179px;top:48px;width:5px;height:5px;border-radius:50%;background:#ddd"></div>
  <div style="left:70px;top:60px;width:122px;height:33px;background:#555558"></div>
  <div style="left:71px;top:61px;width:21px;height:28px;background:#b06a5e;filter:blur(1px)"></div>
  <div style="left:141px;top:66px;width:58px;height:25px;border-radius:4px 4px 2px 2px;background:#e4e4e4;filter:blur(0.6px)"></div>
  <div style="left:141px;top:70px;width:57px;height:7px;background:#3a3a3e;filter:blur(0.6px)"></div>
  <div style="left:170px;top:90px;width:38px;height:30px;background:#7a7a7c"></div>
  <div style="left:211px;top:64px;width:13px;height:56px;background:#505058;filter:blur(0.8px)"></div>
  <div style="left:50px;top:68px;width:134px;height:55px;background:#e6a092;clip-path:polygon(0 100%,8% 45%,25% 25%,55% 0,80% 5%,88% 20%,100% 100%);filter:blur(1px)"></div>
  <div style="left:88px;top:16px;width:60px;height:52px;border-radius:50% 50% 20% 20%;background:#3a2824;filter:blur(1px)"></div>
  <div style="left:88px;top:40px;width:24px;height:82px;border-radius:30% 30% 10% 10%;background:#3c2824;filter:blur(1px)"></div>
  <div style="left:105px;top:33px;width:38px;height:58px;border-radius:45% 45% 48% 48%;background:#dea6a0;filter:blur(1.2px)"></div>
  <div style="left:122px;top:60px;width:20px;height:40px;background:#dca096;filter:blur(2px)"></div>
</div>
<!-- tile7 man glasses -->
<div class="tile" style="left:1658px;width:224px;background:#9c9ca0">
  <div style="left:-8px;top:-8px;width:240px;height:136px;background:linear-gradient(90deg,#8a878c 0%,#8e8e94 25%,#a4a6ac 50%,#b0b0b4 70%,#b4a89e 90%,#a89080 100%);filter:blur(4px)"></div>
  <div style="left:-5px;top:-5px;width:230px;height:40px;background:linear-gradient(90deg,#a8a4a6,#c4c6cc 45%,#c8ccd4 70%,#c0bcb8);filter:blur(6px)"></div>
  <div style="left:0;top:15px;width:25px;height:30px;background:#a88478;filter:blur(6px)"></div>
  <div style="left:0;top:50px;width:45px;height:50px;background:#6e7280;filter:blur(8px)"></div>
  <div style="left:180px;top:40px;width:25px;height:80px;background:#b08e7c;filter:blur(5px)"></div>
  <div style="left:120px;top:38px;width:48px;height:40px;background:#7c9cc8;filter:blur(7px)"></div>
  <div style="left:128px;top:25px;width:22px;height:28px;border-radius:50%;background:#303640;filter:blur(5px)"></div>
  <div style="left:120px;top:50px;width:60px;height:80px;border-radius:45% 45% 10% 10%;background:#12161c;filter:blur(6px)"></div>
  <div style="left:46px;top:-4px;width:68px;height:52px;border-radius:50% 50% 30% 30%;background:#3c3632;filter:blur(1.5px)"></div>
  <div style="left:58px;top:14px;width:56px;height:84px;border-radius:45% 42% 48% 48%;background:#dcaea4;filter:blur(1.5px)"></div>
  <div style="left:47px;top:44px;width:14px;height:22px;border-radius:45%;background:#d8a89c;filter:blur(1.5px)"></div>
  <div style="left:72px;top:74px;width:36px;height:20px;border-radius:40%;background:#bf978c;filter:blur(3px)"></div>
  <svg style="position:absolute;left:50px;top:44px" width="70" height="30" viewBox="0 0 70 30"><g fill="none" stroke="#4a342a" stroke-width="2.6"><circle cx="40" cy="15" r="9"/><circle cx="59" cy="12" r="7"/><path d="M6,6 L31,13 M49,13 L52,12"/></g><circle cx="40" cy="15" r="7" fill="#ececee" opacity="0.75"/></svg>
  <div style="left:6px;top:84px;width:142px;height:40px;background:#5282c8;clip-path:polygon(0 100%,15% 55%,33% 10%,62% 5%,80% 25%,100% 100%);filter:blur(1px)"></div>
  <div style="left:53px;top:86px;width:44px;height:22px;background:#f2f2f2;clip-path:polygon(0 0,18% 0,50% 55%,100% 45%,100% 70%,45% 100%,10% 70%);filter:blur(0.8px)"></div>
  <div style="left:62px;top:84px;width:40px;height:20px;background:#cfa69a;clip-path:polygon(0 0,100% 0,90% 60%,45% 90%,10% 60%);filter:blur(1px)"></div>
</div>
<!-- tile8 RM -->
<div class="tile" style="left:1882px;width:110px;background:#161616">
  <div style="left:78px;top:27px;width:66px;height:66px;border-radius:50%;background:#f0d9d6"></div>
  <div style="left:76px;top:49px;width:66px;text-align:center;font-size:23px;line-height:1;color:#4a2c2c;white-space:nowrap;-webkit-text-stroke:0.5px #4a2c2c">RM</div>
  <div style="left:13.4px;top:102px;font-size:12.5px;line-height:1;color:#f4f4f4;white-space:nowrap;-webkit-text-stroke:0.3px #f4f4f4">Rebecca Morris</div>
</div>

<!--/VIDEO-->
</div>
</body></html>
